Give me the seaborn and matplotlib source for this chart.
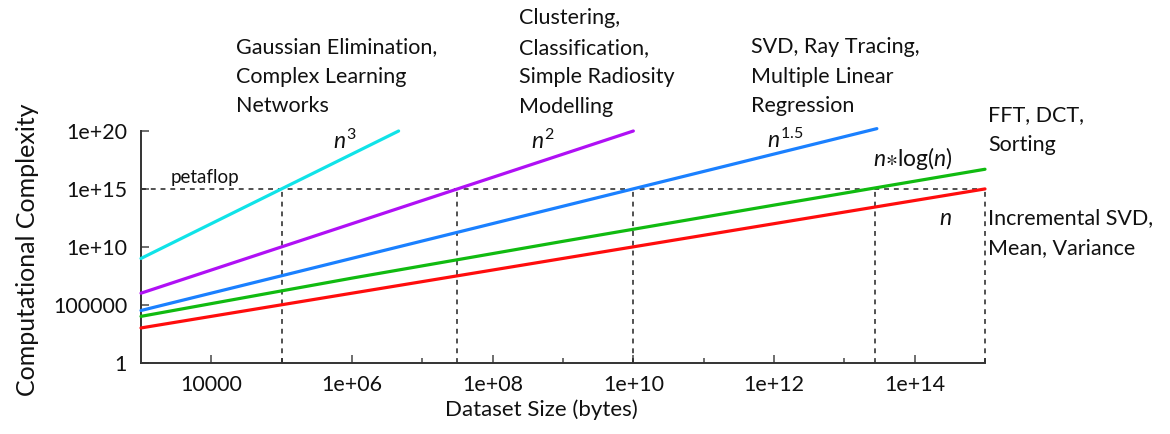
import numpy as np
import pandas as pd
import matplotlib
matplotlib.use("Agg")
import matplotlib.pyplot as plt
import seaborn as sns

# ---------------- data ----------------
series_names = ["n", "nlogn", "n1.5", "n2", "n3"]
n_x = [1e3, 1e15]
n_y = [1e3, 1e15]
nlogn_x = [1e3, 1e6, 1e9, 1e12, 1e15]
nlogn_y = [1e4, 2e7, 3e10, 4e13, 5e16]
n15_x = [1e3, 2.9e13]
n15_y = [3.2e4, 1.6e20]
n2_x = [1e3, 1e10]
n2_y = [1e6, 1e20]
n3_x = [1e3, 4.6e6]
n3_y = [1e9, 1e20]

petaflop = 1e15
crossings = [1e5, 3.16e7, 1e10, 2.75e13, 1e15]

x_ticks = [1e4, 1e6, 1e8, 1e10, 1e12, 1e14]
x_tick_labels = ["10000", "1e+06", "1e+08", "1e+10", "1e+12", "1e+14"]
x_minor = [1e5, 1e7, 1e9, 1e11, 1e13, 1e15]
y_ticks = [1, 1e5, 1e10, 1e15, 1e20]
y_tick_labels = ["1", "100000", "1e+10", "1e+15", "1e+20"]

colors = {"n": "#ff0d0d", "nlogn": "#10bb10", "n1.5": "#1a80ff",
          "n2": "#b010f5", "n3": "#10e3e8"}

frames = []
for name, xs, ys in [("n", n_x, n_y), ("nlogn", nlogn_x, nlogn_y),
                     ("n1.5", n15_x, n15_y), ("n2", n2_x, n2_y),
                     ("n3", n3_x, n3_y)]:
    frames.append(pd.DataFrame({"x": xs, "y": ys, "series": name}))
df = pd.concat(frames, ignore_index=True)

# ---------------- style ----------------
sns.set_theme(style="ticks")
plt.rcParams["font.family"] = ["Lato", "DejaVu Sans"]
plt.rcParams["mathtext.fontset"] = "custom"
plt.rcParams["mathtext.rm"] = "Lato"
plt.rcParams["mathtext.it"] = "Lato:italic"
plt.rcParams["mathtext.fallback"] = "stixsans"

W, H = 1170, 434
fig = plt.figure(figsize=(W / 100, H / 100), dpi=100)
ax = fig.add_axes([141 / W, 1 - 362.7 / H, (985 - 141) / W, (362.7 - 131) / H])

# dashed reference lines
dash = (0, (3.2, 3.2))
ax.plot([1e3, 1e15], [petaflop, petaflop], color="#222222", lw=1.1,
        linestyle=dash, zorder=1, clip_on=False)
for cx in crossings:
    ax.plot([cx, cx], [1, petaflop], color="#222222", lw=1.1,
            linestyle=dash, zorder=1, clip_on=False)

sns.lineplot(data=df, x="x", y="y", hue="series", palette=colors,
             estimator=None, sort=False, legend=False, linewidth=2.3, ax=ax,
             zorder=3)
for ln in ax.lines:
    ln.set_clip_on(False)

ax.set_xscale("log")
ax.set_yscale("log")
ax.set_xlim(1e3, 1e15)
ax.set_ylim(1, 1e20)

ax.set_xticks(x_ticks)
ax.set_xticklabels(x_tick_labels)
ax.set_xticks(x_minor, minor=True)
ax.set_xticklabels([], minor=True)
ax.set_yticks(y_ticks)
ax.set_yticklabels(y_tick_labels)
ax.yaxis.set_minor_locator(matplotlib.ticker.NullLocator())

ax.tick_params(axis="both", which="major", direction="in", length=6,
               width=1.2, color="#555555", labelsize=15.5, pad=9,
               labelcolor="#111111")
ax.tick_params(axis="x", which="minor", direction="in", length=3.5,
               width=1.2, color="#555555")
ax.tick_params(axis="y", pad=10)

for s in ["top", "right"]:
    ax.spines[s].set_visible(False)
for s in ["left", "bottom"]:
    ax.spines[s].set_linewidth(1.4)
    ax.spines[s].set_color("#333333")
ax.set_facecolor("white")

ax.set_xlabel("")
ax.set_ylabel("")
fig.text(541 / W, 1 - 410 / H, "Dataset Size (bytes)", ha="center",
         va="center", fontsize=16, color="#111111")
fig.text(28 / W, 1 - 250 / H, "Computational Complexity", ha="center",
         va="center", rotation=90, fontsize=18, color="#111111")


def ftxt(x, y, s, **kw):
    kw.setdefault("fontsize", 15.5)
    kw.setdefault("color", "#111111")
    fig.text(x / W, 1 - y / H, s, **kw)


ftxt(171, 177, "petaflop", ha="left", va="center", fontsize=13.5)
blk = dict(ha="left", va="top", linespacing=1.6)
ftxt(236, 37, "Gaussian Elimination,\nComplex Learning\nNetworks", **blk)
ftxt(519, 8, "Clustering,\nClassification,\nSimple Radiosity\nModelling", **blk)
ftxt(751, 37, "SVD, Ray Tracing,\nMultiple Linear\nRegression", **blk)
ftxt(988, 105, "FFT, DCT,\nSorting", **blk)
ftxt(988, 208, "Incremental SVD,\nMean, Variance", **blk)

lab = dict(ha="center", va="center", fontsize=16.5)
ftxt(345, 141, r"$n^3$", **lab)
ftxt(543, 141, r"$n^2$", **lab)
ftxt(785, 140, r"$n^{1.5}$", **lab)
ftxt(913, 158, r"$n{\ast}\mathrm{log}(n)$", **lab)
ftxt(945, 218, r"$n$", **lab)

fig.savefig("out.png", dpi=100, facecolor="white")
